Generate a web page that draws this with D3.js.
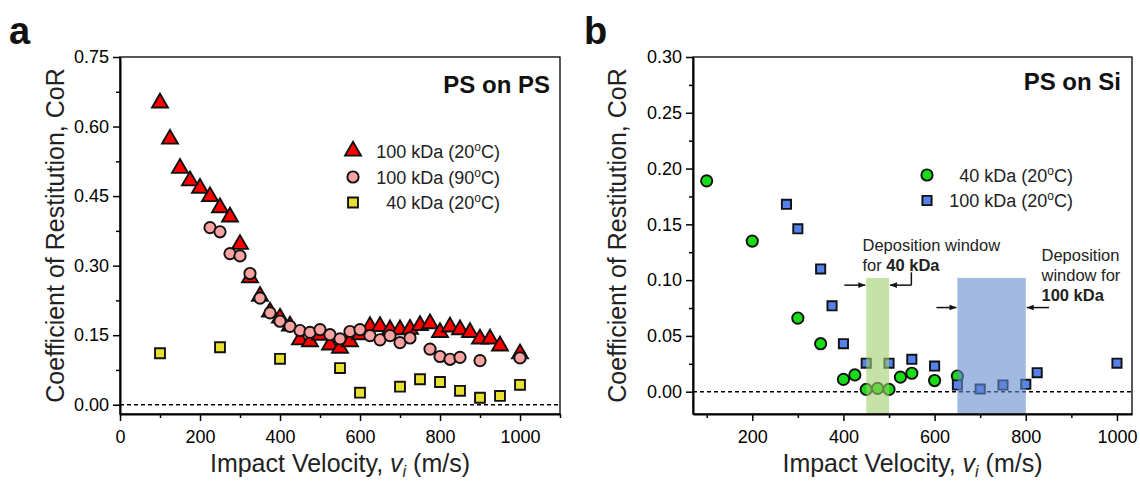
<!DOCTYPE html>
<html>
<head>
<meta charset="utf-8">
<script src="https://cdn.jsdelivr.net/npm/d3@7"></script>
<style>
  body { margin: 0; background: #fff; }
  svg { font-family: "Liberation Sans", Arial, sans-serif; }
</style>
</head>
<body>
<svg id="chart" width="1140" height="483"></svg>
<script>
// panel a: PS on PS
var triVel = [100,125,150,175,200,225,250,275,300,325,350,375,400,425,450,475,500,525,550,575,600,625,650,675,700,725,750,775,800,825,850,875,900,925,950,1000];
var triCoR = [0.651,0.573,0.510,0.483,0.467,0.449,0.425,0.405,0.346,0.274,0.234,0.200,0.187,0.170,0.140,0.136,0.150,0.129,0.122,0.136,0.151,0.169,0.169,0.162,0.162,0.163,0.171,0.175,0.156,0.168,0.162,0.156,0.142,0.142,0.127,0.110];
var circVel = [225,250,275,300,325,350,375,400,425,450,475,500,525,550,575,600,625,650,675,700,725,775,800,825,850,900,1000];
var circCoR = [0.382,0.373,0.326,0.321,0.283,0.230,0.198,0.180,0.169,0.160,0.156,0.162,0.151,0.142,0.158,0.162,0.149,0.140,0.149,0.134,0.144,0.120,0.104,0.098,0.102,0.095,0.101];
var sqVel = [100,250,400,550,600,700,750,800,850,900,950,1000];
var sqCoR = [0.111,0.124,0.099,0.079,0.026,0.039,0.055,0.049,0.030,0.015,0.019,0.043];

// panel b: PS on Si
var grnVel = [100,200,300,350,400,425,450,475,500,525,550,600,650];
var grnCoR = [0.189,0.135,0.066,0.043,0.011,0.015,0.002,0.003,0.002,0.013,0.0165,0.010,0.014];
var bluVel = [275,300,350,375,400,450,500,550,600,650,700,750,800,825,1000];
var bluCoR = [0.168,0.146,0.110,0.077,0.043,0.0255,0.0255,0.029,0.023,0.006,0.0024,0.006,0.0066,0.017,0.0255];

// deposition windows (m/s) and their height
var winStart = [450, 650];
var winEnd = [500, 800];
var winTop = [0.102, 0.102];

var ticksA_y = [0, 0.15, 0.30, 0.45, 0.60, 0.75];
var ticksB_y = [0, 0.05, 0.10, 0.15, 0.20, 0.25, 0.30];

var svg = d3.select("#chart");
var top_ = 57, bottom = 414;

var xA = d3.scaleLinear().domain([0, 1100]).range([120, 560]);
var yA = d3.scaleLinear().domain([-0.02, 0.75]).range([bottom, top_]);
var xB = d3.scaleLinear().domain([70, 1033]).range([693, 1132]);
var yB = d3.scaleLinear().domain([-0.02, 0.30]).range([bottom, top_]);

function d3range(a, b, s) {
  var out = [];
  for (var v = a; v <= b + 1e-9; v += s) out.push(+v.toFixed(4));
  return out;
}

function drawFrame(x, y, xMajor, xMinor, yMajor, yMinor) {
  var g = svg.append("g");
  var x0 = x.range()[0], x1 = x.range()[1];
  // dashed zero line
  g.append("line")
    .attr("x1", x0).attr("x2", x1)
    .attr("y1", y(0)).attr("y2", y(0))
    .attr("stroke", "#000").attr("stroke-width", 1.5)
    .attr("stroke-dasharray", "4,3");
  // box
  g.append("rect")
    .attr("x", x0).attr("y", top_)
    .attr("width", x1 - x0).attr("height", bottom - top_)
    .attr("fill", "none").attr("stroke", "#000").attr("stroke-width", 1.3);

  var xAxis = d3.axisBottom(x).tickValues(xMajor).tickSize(7).tickSizeOuter(0).tickFormat(d3.format("d"));
  var gx = g.append("g").attr("transform", "translate(0," + bottom + ")").call(xAxis);
  gx.selectAll(".tick line").attr("stroke-width", 1.5);
  gx.selectAll("text").attr("font-size", 18).attr("dy", "1.05em").attr("fill", "#000");
  gx.select(".domain").attr("stroke-width", 2);
  g.append("g").attr("transform", "translate(0," + bottom + ")")
    .call(d3.axisBottom(x).tickValues(xMinor).tickSize(4).tickSizeOuter(0).tickFormat(""))
    .call(function (s) { s.select(".domain").remove(); s.selectAll("line").attr("stroke-width", 1.5); });

  var yAxis = d3.axisLeft(y).tickValues(yMajor).tickSize(7).tickSizeOuter(0).tickFormat(d3.format(".2f"));
  var gy = g.append("g").attr("transform", "translate(" + x0 + ",0)").call(yAxis);
  gy.selectAll(".tick line").attr("stroke-width", 1.5);
  gy.selectAll("text").attr("font-size", 18).attr("x", -11).attr("fill", "#000");
  gy.select(".domain").attr("stroke-width", 2);
  g.append("g").attr("transform", "translate(" + x0 + ",0)")
    .call(d3.axisLeft(y).tickValues(yMinor).tickSize(4).tickSizeOuter(0).tickFormat(""))
    .call(function (s) { s.select(".domain").remove(); s.selectAll("line").attr("stroke-width", 1.5); });
  return g;
}

function axisTitles(x, titleX) {
  var cx = (x.range()[0] + x.range()[1]) / 2;
  var t = svg.append("text").attr("x", cx).attr("y", 472)
    .attr("text-anchor", "middle").attr("font-size", 25).attr("fill", "#222");
  t.append("tspan").text("Impact Velocity, ");
  t.append("tspan").attr("font-style", "italic").text("v");
  t.append("tspan").attr("font-style", "italic").attr("font-size", 16).attr("dy", 5).text("i");
  t.append("tspan").attr("dy", -5).text(" (m/s)");
  svg.append("text")
    .attr("transform", "translate(" + titleX + "," + ((top_ + bottom) / 2) + ") rotate(-90)")
    .attr("text-anchor", "middle").attr("font-size", 25).attr("fill", "#222")
    .text("Coefficient of Restitution, CoR");
}

function marks(data, x, y, type, size, fill) {
  svg.append("g").selectAll("path").data(data).enter().append("path")
    .attr("d", d3.symbol().type(type).size(size))
    .attr("transform", function (d) { return "translate(" + x(d[0]) + "," + y(d[1]) + ")"; })
    .attr("fill", fill).attr("stroke", "#111").attr("stroke-width", 1.9);
}

function degText(endX, y, label, temp) {
  var t = svg.append("text").attr("x", endX).attr("y", y)
    .attr("text-anchor", "end").attr("font-size", 18).attr("fill", "#222");
  t.append("tspan").text(label + " (" + temp);
  t.append("tspan").attr("font-size", 12).attr("dy", -7).text("o");
  t.append("tspan").attr("dy", 7).text("C)");
}

function legendMark(px, py, type, size, fill) {
  svg.append("path").attr("d", d3.symbol().type(type).size(size)())
    .attr("transform", "translate(" + px + "," + py + ")")
    .attr("fill", fill).attr("stroke", "#111").attr("stroke-width", 1.9);
}

// ---------- panel a ----------
drawFrame(xA, yA, d3range(0, 1000, 200), d3range(100, 1100, 200),
  ticksA_y, d3range(0.075, 0.675, 0.15));
axisTitles(xA, 64);

marks(sqVel.map(function (v, i) { return [v, sqCoR[i]]; }), xA, yA, d3.symbolSquare, 98, "#e8e030");
marks(triVel.map(function (v, i) { return [v, triCoR[i]]; }), xA, yA, d3.symbolTriangle, 110, "#ff0000");
marks(circVel.map(function (v, i) { return [v, circCoR[i]]; }), xA, yA, d3.symbolCircle, 100, "#f8a2a2");

svg.append("text").attr("x", 550).attr("y", 93).attr("text-anchor", "end")
  .attr("font-size", 24).attr("font-weight", "bold").attr("fill", "#111").text("PS on PS");

legendMark(353, 151, d3.symbolTriangle, 110, "#ff0000");
degText(500, 158, "100 kDa", "20");
legendMark(353, 177, d3.symbolCircle, 100, "#f8a2a2");
degText(500, 183.5, "100 kDa", "90");
legendMark(353, 202.5, d3.symbolSquare, 98, "#e8e030");
degText(500, 209, "40 kDa", "20");

svg.append("text").attr("x", 9).attr("y", 44).attr("font-size", 38)
  .attr("font-weight", "bold").attr("fill", "#111").text("a");

// ---------- panel b ----------
drawFrame(xB, yB, d3range(200, 1000, 200), d3range(100, 900, 200),
  ticksB_y, d3range(0.025, 0.275, 0.05));
axisTitles(xB, 626);

marks(grnVel.map(function (v, i) { return [v, grnCoR[i]]; }), xB, yB, d3.symbolCircle, 100, "#18dc18");
marks(bluVel.map(function (v, i) { return [v, bluCoR[i]]; }), xB, yB, d3.symbolSquare, 84, "#5580ee");

var winColors = ["rgb(158,208,107)", "rgb(100,138,207)"];
svg.append("g").selectAll("rect").data(winStart).enter().append("rect")
  .attr("x", function (d) { return xB(d); })
  .attr("width", function (d, i) { return xB(winEnd[i]) - xB(d); })
  .attr("y", function (d, i) { return yB(winTop[i]); })
  .attr("height", function (d, i) { return bottom - 1 - yB(winTop[i]); })
  .attr("fill", function (d, i) { return winColors[i]; })
  .attr("opacity", 0.6);

// arrows
var defs = svg.append("defs");
defs.append("marker").attr("id", "ah").attr("viewBox", "0 0 10 10")
  .attr("refX", 10).attr("refY", 5).attr("markerWidth", 7).attr("markerHeight", 7)
  .attr("markerUnits", "userSpaceOnUse").attr("orient", "auto")
  .append("path").attr("d", "M0,1 L10,5 L0,9 Z").attr("fill", "#111");

function arrow(v0, v1, c) {
  svg.append("line").attr("x1", xB(v0)).attr("x2", xB(v1))
    .attr("y1", yB(c)).attr("y2", yB(c))
    .attr("stroke", "#111").attr("stroke-width", 1.5).attr("marker-end", "url(#ah)");
}
arrow(402, 448, 0.0955);
arrow(549, 502, 0.0955);
svg.append("line").attr("x1", xB(549)).attr("x2", xB(549))
  .attr("y1", yB(0.0955)).attr("y2", yB(0.107)).attr("stroke", "#111").attr("stroke-width", 1.5);
arrow(604, 648, 0.0754);
arrow(851, 802, 0.0754);

function label(x, y, parts) {
  var t = svg.append("text").attr("x", x).attr("y", y).attr("font-size", 16.5).attr("fill", "#222");
  parts.forEach(function (p) {
    t.append("tspan").attr("font-weight", p[1] ? "bold" : "normal").text(p[0]);
  });
}
label(862.5, 251, [["Deposition window", false]]);
label(862.5, 271, [["for ", false], ["40 kDa", true]]);
label(1041.5, 261, [["Deposition", false]]);
label(1041.5, 281, [["window for", false]]);
label(1041.5, 301, [["100 kDa", true]]);

svg.append("text").attr("x", 1121).attr("y", 90).attr("text-anchor", "end")
  .attr("font-size", 24).attr("font-weight", "bold").attr("fill", "#111").text("PS on Si");

legendMark(927, 175, d3.symbolCircle, 100, "#18dc18");
degText(1073, 181.5, "40 kDa", "20");
legendMark(927, 200.5, d3.symbolSquare, 84, "#5580ee");
degText(1073, 207, "100 kDa", "20");

svg.append("text").attr("x", 584).attr("y", 44).attr("font-size", 38)
  .attr("font-weight", "bold").attr("fill", "#111").text("b");
</script>
</body>
</html>
